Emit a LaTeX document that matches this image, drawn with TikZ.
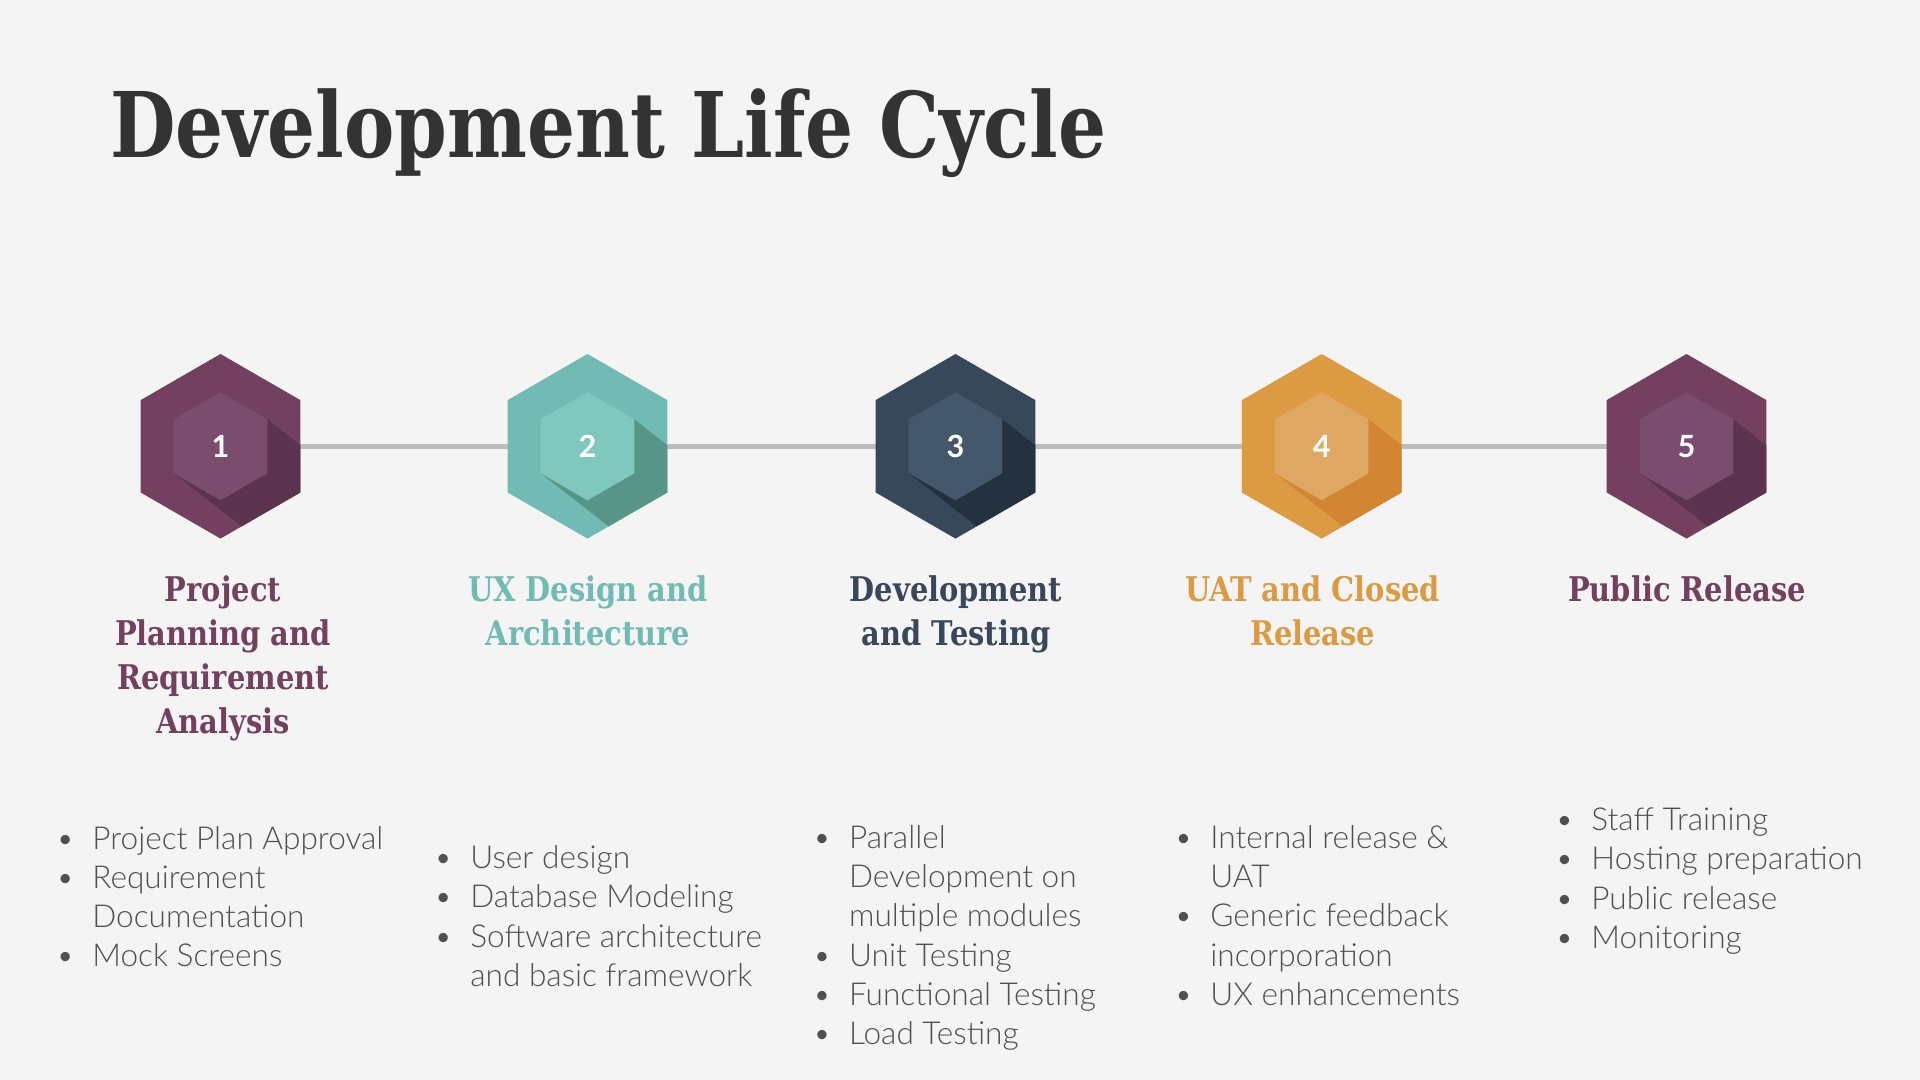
\documentclass[tikz,border=0pt]{standalone}
\usepackage{graphicx}
\usepackage{fontspec}
\setmainfont{Lato}
\newfontfamily\headfont{DejaVu Serif}
\newfontfamily\lightfont{Lato Light}

\definecolor{pagebg}{HTML}{F4F4F4}
\definecolor{titleink}{HTML}{333333}
\definecolor{bodyink}{HTML}{505050}
\definecolor{linkgray}{HTML}{BDBDBD}
% step palettes: outer / inner / shadow
\definecolor{plumA}{HTML}{74405F}
\definecolor{plumB}{HTML}{7A4C6E}
\definecolor{plumC}{HTML}{5D3450}
\definecolor{tealA}{HTML}{72BBB4}
\definecolor{tealB}{HTML}{80C7BE}
\definecolor{tealC}{HTML}{579589}
\definecolor{navyA}{HTML}{37485B}
\definecolor{navyB}{HTML}{44576B}
\definecolor{navyC}{HTML}{24313E}
\definecolor{amberA}{HTML}{DC9B43}
\definecolor{amberB}{HTML}{DFA862}
\definecolor{amberC}{HTML}{D28532}

\newcommand\sq[1]{\scalebox{0.85}[1]{#1}}
\newcommand\bul{\makebox[0pt][c]{•}\hspace{13.5pt}}
\newcommand\ind{\hspace*{13.5pt}}

% hexagon badge: #1 centre, #2 outer, #3 inner, #4 shadow, #5 number
\newcommand\lifehex[5]{%
  \fill[#2] (#1) +(90:92.3) -- +(30:92.3) -- +(-30:92.3) -- +(-90:92.3)
    -- +(-150:92.3) -- +(150:92.3) -- cycle;
  \begin{scope}
    \clip (#1) +(90:92.3) -- +(30:92.3) -- +(-30:92.3) -- +(-90:92.3)
      -- +(-150:92.3) -- +(150:92.3) -- cycle;
    \fill[#4] ([shift={(-30:54)}]#1) -- ([shift={(-30:54)},shift={(38:250)}]#1)
      -- ([shift={(150:54)},shift={(38:250)}]#1) -- ([shift={(150:54)}]#1) -- cycle;
  \end{scope}
  \fill[#3] (#1) +(90:54) -- +(30:54) -- +(-30:54) -- +(-90:54)
    -- +(-150:54) -- +(150:54) -- cycle;
  \node[numlabel] (n#5) at (#1) {#5};
}

% multi-line nodes are placed by the baseline of their last line
\tikzset{
  link/.style={draw=linkgray, line width=2.5pt},
  numlabel/.style={text=white, inner sep=0pt, font={\bfseries\fontsize{15.3}{18}\selectfont}},
  headtext/.style={anchor=base, align=center, inner sep=0pt,
    font={\headfont\bfseries\fontsize{17}{22}\selectfont}},
  listtext/.style={anchor=base west, align=left, inner sep=0pt, text=bodyink,
    font={\lightfont\fontsize{15.8}{19.6}\selectfont}},
}

\begin{document}
\begin{tikzpicture}[x=0.5pt, y=-0.5pt]
  \fill[pagebg] (0,0) rectangle (1920,1080);
  \useasboundingbox (0,0) rectangle (1920,1080);

  \node[anchor=base west, inner sep=0pt, text=titleink,
        font={\headfont\bfseries\fontsize{45.3}{50}\selectfont}] (title) at (110,158)
        {\resizebox{498pt}{\height}{Development Life Cycle}};

  \coordinate (c1) at (220.5,446.3);
  \coordinate (c2) at (587.5,446.3);
  \coordinate (c3) at (955.5,446.3);
  \coordinate (c4) at (1321.7,446.3);
  \coordinate (c5) at (1686.5,446.3);

  \draw[link] (c1) -- (c2);
  \draw[link] (c2) -- (c3);
  \draw[link] (c3) -- (c4);
  \draw[link] (c4) -- (c5);

  \lifehex{c1}{plumA}{plumB}{plumC}{1}
  \lifehex{c2}{tealA}{tealB}{tealC}{2}
  \lifehex{c3}{navyA}{navyB}{navyC}{3}
  \lifehex{c4}{amberA}{amberB}{amberC}{4}
  \lifehex{c5}{plumA}{plumB}{plumC}{5}

  \node[headtext, text=plumA] (t1) at (223,733)
    {\sq{Project}\\\sq{Planning and}\\\sq{Requirement}\\\sq{Analysis}};
  \node[headtext, text=tealA] (t2) at (588,645)
    {\sq{UX Design and}\\\sq{Architecture}};
  \node[headtext, text=navyA] (t3) at (956,645)
    {\sq{Development}\\\sq{and Testing}};
  \node[headtext, text=amberA] (t4) at (1312.6,645)
    {\sq{UAT and Closed}\\\sq{Release}};
  \node[headtext, text=plumA] (t5) at (1687,601)
    {\sq{Public Release}};

  \node[listtext] (l1) at (65,966.6)
    {\bul Project Plan Approval\\\bul Requirement\\\ind Documentation\\\bul Mock Screens};
  \node[listtext] (l2) at (443,986.2)
    {\bul User design\\\bul Database Modeling\\\bul Software architecture\\\ind and basic framework};
  \node[listtext] (l3) at (821.7,1044.5)
    {\bul Parallel\\\ind Development on\\\ind multiple modules\\\bul Unit Testing\\\bul Functional Testing\\\bul Load Testing};
  \node[listtext] (l4) at (1183,1005.3)
    {\bul Internal release \&\\\ind UAT\\\bul Generic feedback\\\ind incorporation\\\bul UX enhancements};
  \node[listtext] (l5) at (1564,948.3)
    {\bul Staff Training\\\bul Hosting preparation\\\bul Public release\\\bul Monitoring};
\end{tikzpicture}
\end{document}
